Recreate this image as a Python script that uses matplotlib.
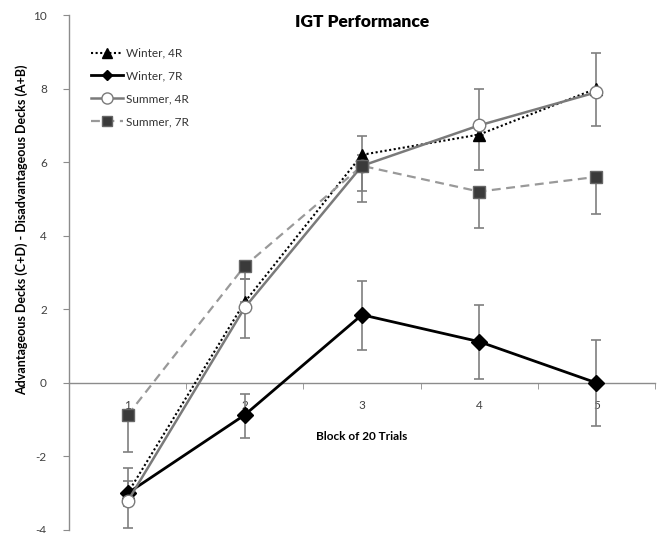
import matplotlib
matplotlib.use("Agg")
import matplotlib.pyplot as plt
import numpy as np

blocks = [1, 2, 3, 4, 5]
series_names = ["Winter, 4R", "Winter, 7R", "Summer, 4R", "Summer, 7R"]

winter_4r = [-3.0, 2.2, 6.2, 6.75, 8.0]
winter_7r = [-3.0, -0.87, 1.85, 1.12, 0.0]
summer_4r = [-3.22, 2.05, 5.9, 7.0, 7.9]
summer_7r = [-0.88, 3.18, 5.9, 5.2, 5.6]

# error bars (lower, upper)
winter_4r_err_lo = [0, 0, 0, 0, 0]
winter_4r_err_hi = [0.69, 0.63, 0.52, 1.24, 0.97]
winter_7r_err_lo = [0.34, 0.62, 0.97, 1.02, 1.18]
winter_7r_err_hi = [0.34, 0.57, 0.93, 1.0, 1.17]
summer_4r_err_lo = [0.72, 0.83, 0.68, 1.2, 0.92]
summer_4r_err_hi = [0, 0, 0, 0, 0]
summer_7r_err_lo = [1.0, 0.35, 0.98, 0.99, 1.01]
summer_7r_err_hi = [0, 0, 0, 0, 0]

yticks = [-4, -2, 0, 2, 4, 6, 8, 10]

plt.rcParams['font.family'] = ['Lato', 'DejaVu Sans']

fig = plt.figure(figsize=(6.61, 5.33), dpi=100)
ax = fig.add_axes([69/661, 1-530/533, (655-69)/661, (530-15)/533])

x = np.array(blocks)
errc = '#7f7f7f'
ekw = dict(fmt='none', ecolor=errc, elinewidth=1.2, capsize=3.5, capthick=1.2, zorder=2)

ax.plot(x, winter_4r, color='black', linestyle=(0, (1, 1.2)), linewidth=1.5,
        marker='^', markersize=9, markerfacecolor='black', markeredgecolor='black',
        label=series_names[0], zorder=3)
ax.plot(x, winter_7r, color='black', linestyle='-', linewidth=2.0,
        marker='D', markersize=8, markerfacecolor='black', markeredgecolor='black',
        label=series_names[1], zorder=3)
ax.plot(x, summer_4r, color='#7a7a7a', linestyle='-', linewidth=1.8,
        marker='o', markersize=9, markerfacecolor='white', markeredgecolor='#7a7a7a',
        label=series_names[2], zorder=3)
ax.plot(x, summer_7r, color='#999999', linestyle=(0, (4, 2.5)), linewidth=1.6,
        marker='s', markersize=8.5, markerfacecolor='#3a3a3a', markeredgecolor='#666666',
        label=series_names[3], zorder=3)

ax.errorbar(x, winter_4r, yerr=[winter_4r_err_lo, winter_4r_err_hi], **ekw)
ax.errorbar(x, winter_7r, yerr=[winter_7r_err_lo, winter_7r_err_hi], **ekw)
ax.errorbar(x, summer_4r, yerr=[summer_4r_err_lo, summer_4r_err_hi], **ekw)
ax.errorbar(x, summer_7r, yerr=[summer_7r_err_lo, summer_7r_err_hi], **ekw)

ax.set_xlim(0.5, 5.5)
ax.set_ylim(-4, 10)
ax.set_yticks(yticks)
ax.set_yticklabels([str(v) for v in yticks])

ax.spines['top'].set_visible(False)
ax.spines['right'].set_visible(False)
ax.spines['left'].set_color('#8c8c8c')
ax.spines['bottom'].set_color('#8c8c8c')
ax.spines['bottom'].set_position(('data', 0))
ax.spines['left'].set_linewidth(1.0)
ax.spines['bottom'].set_linewidth(1.0)

ax.set_xticks(blocks)
ax.set_xticklabels([str(b) for b in blocks])
ax.set_xticks([0.5, 1.5, 2.5, 3.5, 4.5, 5.5], minor=True)
ax.tick_params(axis='x', which='major', length=0, pad=12, labelsize=8.5, labelcolor='#404040')
ax.tick_params(axis='x', which='minor', length=4, color='#8c8c8c', direction='out')
ax.tick_params(axis='y', which='major', length=4, color='#8c8c8c', direction='out',
               labelsize=8.5, labelcolor='#404040', pad=12)

leg = ax.legend(loc='upper left', bbox_to_anchor=(86/661, 1-43/533), bbox_transform=fig.transFigure,
                frameon=False, fontsize=8.5, handlelength=2.7, handletextpad=0.25,
                labelspacing=1.0, borderaxespad=0)
for h, ms in zip(leg.legend_handles, [6.5, 5, 8, 7.5]):
    h.set_markersize(ms)
for t in leg.get_texts():
    t.set_color('#333333')

fig.text(362/661, 1-22/533, "IGT Performance", ha='center', va='center',
         fontsize=12.5, fontweight='heavy')
fig.text(22/661, 1-230/533, "Advantageous Decks (C+D) - Disadvantageous Decks (A+B)",
         ha='center', va='center', rotation=90, fontsize=9, fontweight='bold')
fig.text(362/661, 1-437/533, "Block of 20 Trials", ha='center', va='center',
         fontsize=8.5, fontweight='bold')

fig.savefig("out.png", dpi=100)
